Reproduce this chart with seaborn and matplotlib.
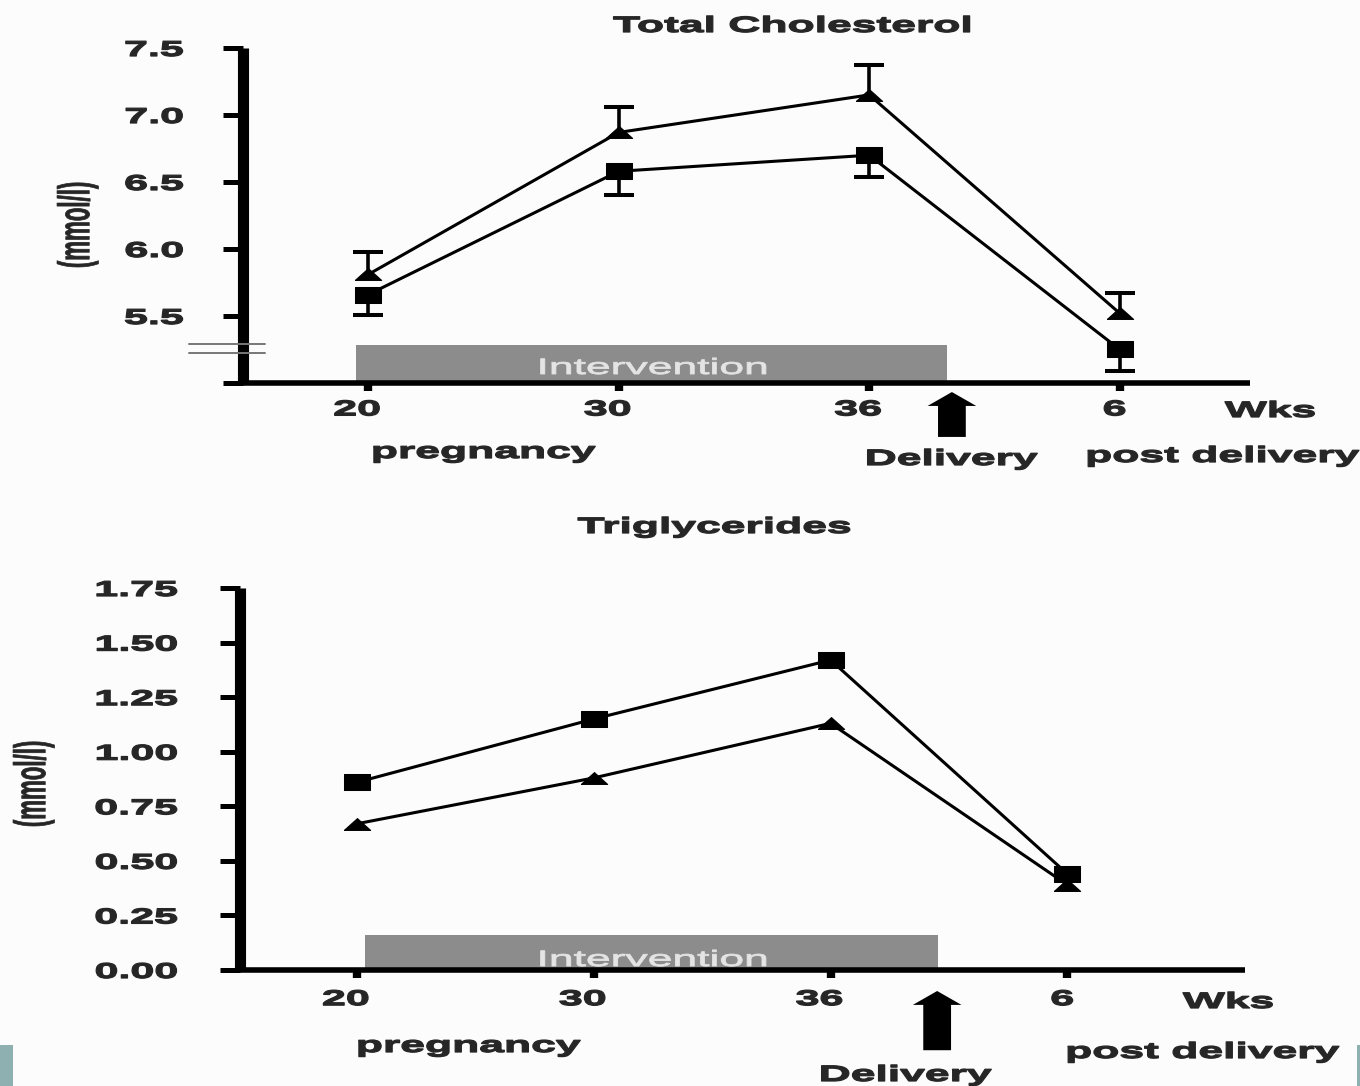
"""Total cholesterol and triglycerides across pregnancy and post delivery."""

import matplotlib

matplotlib.use("Agg")
import matplotlib.pyplot as plt
import numpy as np
import seaborn as sns
from matplotlib.patches import Rectangle
from matplotlib.patheffects import AbstractPathEffect
from matplotlib.transforms import Affine2D, blended_transform_factory

# data
weeks = ["20", "30", "36", "6"]

chol_triangle = [5.81, 6.87, 7.15, 5.52]
chol_triangle_err = [0.17, 0.19, 0.22, 0.15]
chol_square = [5.66, 6.58, 6.70, 5.25]
chol_square_err = [0.15, 0.18, 0.16, 0.16]

trig_square = [0.86, 1.15, 1.42, 0.44]
trig_triangle = [0.67, 0.88, 1.13, 0.39]

chol_yticks = [5.0, 5.5, 6.0, 6.5, 7.0, 7.5]
chol_ylabels = ["", "5.5", "6.0", "6.5", "7.0", "7.5"]
trig_yticks = [0.0, 0.25, 0.5, 0.75, 1.0, 1.25, 1.5, 1.75]
trig_ylabels = ["0.00", "0.25", "0.50", "0.75", "1.00", "1.25", "1.50", "1.75"]

W, H = 1360, 1086
SX = 2.0  # the source figure is stretched horizontally
TICK_SIZE = 15.5
TEXT_SIZE = 16

square_marker = [(-1, -0.6), (1, -0.6), (1, 0.6), (-1, 0.6), (-1, -0.6)]
triangle_marker = [(-1, -0.45), (1, -0.45), (0, 0.45), (-1, -0.45)]


class Stretch(AbstractPathEffect):
    """Draw text stretched horizontally about its ink bbox, slightly emboldened."""

    def __init__(self, sx=SX, anchor="center", stroke=0.9):
        super().__init__()
        self.sx = sx
        self.anchor = anchor
        self.stroke = stroke

    def draw_path(self, renderer, gc, tpath, affine, rgbFace=None):
        if len(tpath.vertices) == 0:
            return
        xs = affine.transform(tpath.vertices)[:, 0]
        if self.anchor == "right":
            x0 = xs.max()
        elif self.anchor == "left":
            x0 = xs.min()
        else:
            x0 = (xs.min() + xs.max()) / 2
        stretch = Affine2D().translate(-x0, 0).scale(self.sx, 1).translate(x0, 0)
        gc0 = renderer.new_gc()
        gc0.copy_properties(gc)
        if rgbFace is not None and self.stroke:
            gc0.set_linewidth(self.stroke)
            gc0.set_foreground(rgbFace)
            gc0.set_joinstyle("round")
        renderer.draw_path(gc0, tpath, affine + stretch, rgbFace)
        gc0.restore()


sns.set_style("white")
plt.rcParams["font.family"] = ["Liberation Sans", "DejaVu Sans"]
plt.rcParams["font.weight"] = "bold"

fig = plt.figure(figsize=(W / 100, H / 100), dpi=100, facecolor="#fcfcfc")


def fig_text(x, y, s, stroke=0.9, **kw):
    kw.setdefault("fontsize", TEXT_SIZE)
    kw.setdefault("ha", "center")
    kw.setdefault("va", "baseline")
    t = fig.text(x / W, 1 - y / H, s, **kw)
    t.set_path_effects([Stretch(stroke=stroke)])
    return t


def make_axes(left, right, top, bottom):
    ax = fig.add_axes([left / W, 1 - bottom / H, (right - left) / W, (bottom - top) / H])
    ax.set_facecolor("none")
    return ax


def style_axes(ax, yticks, ylabels, ypad, xpad):
    pos = np.arange(len(weeks))
    for side in ("top", "right"):
        ax.spines[side].set_visible(False)
    ax.spines["left"].set_linewidth(8)
    ax.spines["bottom"].set_linewidth(4)
    for side in ("left", "bottom"):
        ax.spines[side].set_color("black")
        ax.spines[side].set_capstyle("butt")
    ax.set_yticks(yticks, ylabels)
    ax.set_xticks(pos, weeks)
    ax.set_ylim(yticks[0], yticks[-1])
    ax.tick_params(axis="y", left=True, direction="out", length=14.4, width=3.6, pad=ypad,
                   labelsize=TICK_SIZE, color="black")
    ax.tick_params(axis="x", bottom=True, direction="out", length=5.8, width=6, pad=xpad,
                   labelsize=TICK_SIZE, color="black")
    for lab in ax.get_yticklabels():
        lab.set_path_effects([Stretch(anchor="right")])
    for lab in ax.get_xticklabels():
        lab.set_path_effects([Stretch(anchor="right")])
    ax.set_xlabel("")
    ax.set_ylabel("")


def draw_series(ax, values, marker):
    pos = np.arange(len(weeks))
    sns.lineplot(x=pos, y=values, ax=ax, color="black", lw=2.2, errorbar=None,
                 marker=marker, ms=19, mec="black", mfc="black", zorder=3)


def draw_errors(ax, values, errs, direction):
    pos = np.arange(len(weeks))
    ends = np.array(values) + direction * np.array(errs)
    ax.vlines(pos, values, ends, color="black", lw=2.6, zorder=2)
    ax.plot(pos, ends, ls="none", marker="_", ms=21.6, mew=2.9, color="black", zorder=2)


def draw_intervention(ax, x0, x1, y0, y1):
    ax.add_patch(Rectangle((x0, y0), x1 - x0, y1 - y0, facecolor="#8c8c8c",
                           edgecolor="none", zorder=1))


def draw_delivery_arrow(ax, x, y_tail, y_head):
    trans = ax.get_xaxis_transform()
    ax.annotate("", xy=(x, y_head), xytext=(x, y_tail), xycoords=trans, textcoords=trans,
                annotation_clip=False,
                arrowprops=dict(facecolor="black", edgecolor="none", width=20,
                                headwidth=35, headlength=10, shrink=0))


# ---- Total cholesterol ----
ax1 = make_axes(243, 1250, 48, 383)
ax1.set_xlim(-0.5, 3.52)
draw_intervention(ax1, -0.05, 2.31, 5.0, 5.28)
draw_errors(ax1, chol_triangle, chol_triangle_err, 1)
draw_errors(ax1, chol_square, chol_square_err, -1)
draw_series(ax1, chol_triangle, triangle_marker)
draw_series(ax1, chol_square, square_marker)
style_axes(ax1, chol_yticks, chol_ylabels, ypad=28.5, xpad=6)

# axis break marks
brk = blended_transform_factory(ax1.transAxes, ax1.transData)
for yb in (5.224, 5.291):
    ax1.plot([-0.054, 0.022], [yb, yb], transform=brk, color="#777777", lw=1.4,
             clip_on=False, zorder=4)

draw_delivery_arrow(ax1, 2.33, -0.161, -0.027)

fig_text(792, 32, "Total Cholesterol")
fig_text(78, 225, "(mmol/l)", rotation=90, va="center", stroke=0.5)
fig_text(652, 374, "Intervention", color="#e4e4e4", fontweight="normal", stroke=0.6)
fig_text(1270, 417, "Wks")
fig_text(483, 458, "pregnancy")
fig_text(951, 465, "Delivery")
fig_text(1222, 462, "post delivery")

# ---- Triglycerides ----
ax2 = make_axes(240, 1245, 588, 970)
ax2.set_xlim(-0.494, 3.75)
draw_intervention(ax2, 0.034, 2.453, 0.0, 0.16)
draw_series(ax2, trig_triangle, triangle_marker)
draw_series(ax2, trig_square, square_marker)
style_axes(ax2, trig_yticks, trig_ylabels, ypad=30.5, xpad=8)

draw_delivery_arrow(ax2, 2.45, -0.21, -0.055)

fig_text(714, 533, "Triglycerides")
fig_text(34, 784, "(mmol/l)", rotation=90, va="center", stroke=0.5)
fig_text(652, 966, "Intervention", color="#e4e4e4", fontweight="normal", stroke=0.6)
fig_text(1228, 1008, "Wks")
fig_text(468, 1052, "pregnancy")
fig_text(905, 1081, "Delivery")
fig_text(1202, 1058, "post delivery")

# slide decoration strips
fig.patches.append(Rectangle((0, 0), 13 / W, 41 / H, transform=fig.transFigure,
                             facecolor="#8fb0b0", edgecolor="none"))
fig.patches.append(Rectangle((1 - 3 / W, 0), 3 / W, 41 / H, transform=fig.transFigure,
                             facecolor="#8fb0b0", edgecolor="none"))

fig.savefig("out.png", dpi=100, facecolor=fig.get_facecolor())
